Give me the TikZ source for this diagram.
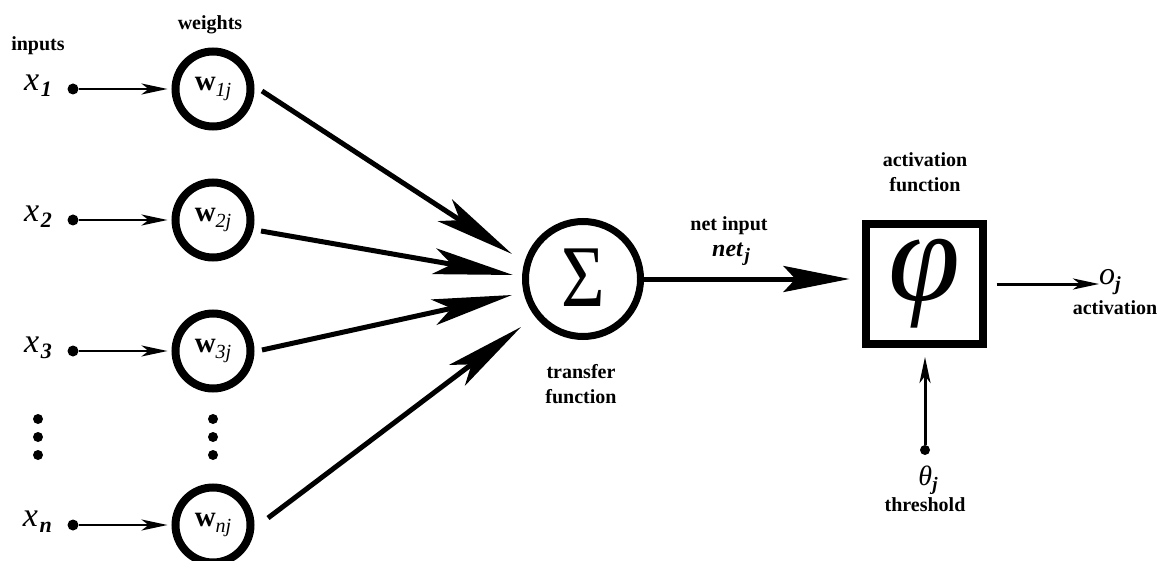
\documentclass[tikz,border=0pt]{standalone}
\usepackage{fontspec}
\setmainfont{Liberation Serif}
\usetikzlibrary{arrows.meta,calc}
\newcommand\xlab[1]{{\fontsize{34}{34}\selectfont\itshape x}\,\raisebox{-6pt}{\fontsize{22}{22}\selectfont\bfseries\itshape #1}}
\newcommand\wlab[1]{{\fontsize{29}{29}\selectfont\bfseries w}\raisebox{-6pt}{\fontsize{20}{20}\selectfont\itshape #1}}
\begin{document}
\begin{tikzpicture}[x=1pt,y=-1pt,
  wcirc/.style={circle,draw,line width=8pt,minimum size=75pt,inner sep=0pt},
  dotnode/.style={circle,fill,minimum size=11pt,inner sep=0pt},
  smalldot/.style={circle,fill,minimum size=10pt,inner sep=0pt},
  thinarrow/.style={line width=2.5pt,-{Stealth[length=26pt,width=11pt,inset=7pt]}},
  bigarrow/.style={line width=5pt,-{Stealth[length=80pt,width=26pt,inset=18pt]}},
  outarrow/.style={line width=5pt,-{Stealth[length=66pt,width=26pt,inset=12pt]}},
  lbl/.style={font=\fontsize{20}{25}\selectfont\bfseries,inner sep=0pt,align=center},
  var/.style={inner sep=0pt}]
\useasboundingbox (0,0) rectangle (1161,561);
% headers
\node[lbl] (tin) at (38,46) {inputs};
\node[lbl] (tw) at (210,25) {weights};
% weight circles
\node[wcirc] (w1) at (213,89) {\wlab{1j}};
\node[wcirc] (w2) at (213,220) {\wlab{2j}};
\node[wcirc] (w3) at (213,351) {\wlab{3j}};
\node[wcirc] (wn) at (213,525) {\wlab{nj}};
% input dots
\node[dotnode] (d1) at (73,89) {};
\node[dotnode] (d2) at (73,220) {};
\node[dotnode] (d3) at (73,351) {};
\node[dotnode] (dn) at (73,525) {};
% input labels
\node[var,anchor=east] (x1) at (52,86) {\xlab{1}};
\node[var,anchor=east] (x2) at (52,217) {\xlab{2}};
\node[var,anchor=east] (x3) at (52,348) {\xlab{3}};
\node[var,anchor=east] (xn) at (52,522) {\xlab{n}};
% vertical ellipses
\node[smalldot] (e1) at (38,419) {};
\node[smalldot] (e2) at (38,437) {};
\node[smalldot] (e3) at (38,455) {};
\node[smalldot] (f1) at (213,419) {};
\node[smalldot] (f2) at (213,437) {};
\node[smalldot] (f3) at (213,455) {};
% input arrows
\draw[thinarrow,shorten >=4pt] (d1) -- (w1);
\draw[thinarrow,shorten >=4pt] (d2) -- (w2);
\draw[thinarrow,shorten >=4pt] (d3) -- (w3);
\draw[thinarrow,shorten >=4pt] (dn) -- (wn);
% summation
\node[circle,draw,line width=7pt,minimum size=115pt,inner sep=0pt,
      font=\fontsize{88}{88}\selectfont] (sig) at (583,279) {\raisebox{3pt}{\scalebox{0.85}[1]{Σ}}};
\node[lbl] (tf) at (581,384) {transfer\\function};
% weighted arrows
\draw[bigarrow] ($(w1.center)+(49,2)$) -- ($(sig.center)+(-71,-25)$);
\draw[bigarrow] ($(w2.center)+(48,11)$) -- ($(sig.center)+(-70,-4)$);
\draw[bigarrow] ($(w3.center)+(49,-1)$) -- ($(sig.center)+(-71,16)$);
\draw[bigarrow] ($(wn.center)+(55,-7)$) -- ($(sig.center)+(-62,48)$);
% activation box
\node[draw,line width=8pt,minimum width=117pt,minimum height=120pt,inner sep=0pt,
      font=\fontsize{130}{130}\selectfont\itshape] (phi) at (924,284) {φ};
\node[lbl] (af) at (925,172) {activation\\function};
% net input
\node[lbl] (nin) at (729,226) {net input};
\node[var] (netj) at (731,254) {{\fontsize{24}{24}\selectfont\bfseries\itshape net}\,\raisebox{-5pt}{\fontsize{19}{19}\selectfont\bfseries\itshape j}};
\draw[outarrow,shorten >=12pt] (sig.east) -- (sig.east -| phi.west);
% output
\node[var,anchor=west] (oj) at (1099,282) {{\fontsize{32}{32}\selectfont\itshape o}\raisebox{-6pt}{\fontsize{20}{20}\selectfont\bfseries\itshape j}};
\node[lbl] (act) at (1115,308) {activation};
\draw[thinarrow,line width=3pt,shorten <=10pt] (phi.east) -- (phi.east -| oj.west);
% threshold
\node[dotnode,minimum size=10pt] (th) at (925,450) {};
\node[var] (thj) at (928,480) {{\fontsize{28}{28}\selectfont\itshape θ}\raisebox{-5pt}{\fontsize{19}{19}\selectfont\bfseries\itshape j}};
\node[lbl] (thr) at (925,505) {threshold};
\draw[thinarrow,line width=3pt,shorten >=9pt] (th) -- (th |- phi.south);
\end{tikzpicture}
\end{document}
